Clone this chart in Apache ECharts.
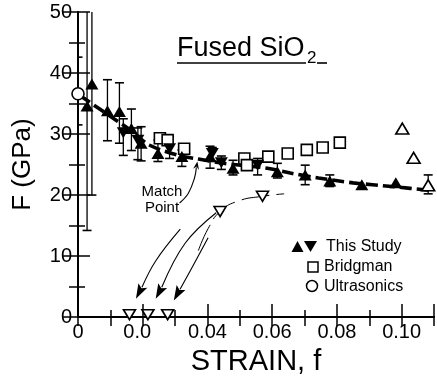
<!DOCTYPE html>
<html><head><meta charset="utf-8">
<script src="https://cdn.jsdelivr.net/npm/echarts@6/dist/echarts.min.js"></script>
<style>html,body{margin:0;padding:0;background:#fff}#c{width:437px;height:381px}</style>
</head><body><div id="c"></div>
<script>
// ---- tick labels ----
const xTickValues = [0, 0.02, 0.04, 0.06, 0.08, 0.10];
const xTickLabels = ['0', '0.02', '0.04', '0.06', '0.08', '0.10'];
const yTickValues = [0, 10, 20, 30, 40, 50];
const yTickLabels = ['0', '10', '20', '30', '40', '50'];

// ---- This Study: filled up triangles ----
const studyUpX  = [0.0028, 0.0043, 0.0091, 0.0128, 0.0165, 0.0195, 0.0247, 0.0321, 0.0408, 0.0479, 0.0616, 0.0702, 0.0778, 0.0877, 0.0982];
const studyUpY  = [34.6, 38.2, 33.8, 33.7, 30.9, 28.5, 26.8, 26.3, 26.3, 24.4, 23.8, 23.3, 22.3, 21.7, 22.0];
const studyUpLo = [14.2, 20.0, 28.9, 28.5, 27.3, 25.6, 25.5, 24.7, 24.4, 23.3, 22.8, 21.7, 21.4, null, null];
const studyUpHi = [56.0, 56.0, 38.9, 38.4, 34.1, 31.2, 29.0, 27.4, 28.0, 25.7, 25.2, 24.9, 23.3, null, null];

// ---- This Study: filled down triangles ----
const studyDnX  = [0.0140, 0.0185, 0.0283, 0.0415, 0.0443, 0.0555];
const studyDnY  = [30.2, 29.0, 27.6, 26.8, 25.3, 24.9];
const studyDnLo = [26.5, 25.8, 26.0, 25.5, 24.2, 23.3];
const studyDnHi = [32.5, 31.0, 29.6, 27.8, 26.4, 26.0];

// ---- Bridgman: open squares ----
const bridgmanX = [0.0253, 0.0277, 0.0328, 0.0514, 0.0522, 0.0588, 0.0648, 0.0707, 0.0756, 0.0809];
const bridgmanY = [29.3, 29.0, 27.6, 26.0, 24.9, 26.3, 26.8, 27.4, 27.8, 28.6];

// ---- Ultrasonics: open circle ----
const ultraX  = [0.0];
const ultraY  = [36.6];
const ultraLo = [31.5];
const ultraHi = [42.6];

// ---- other data: open up triangles ----
const openUpX  = [0.1002, 0.1037, 0.1082];
const openUpY  = [30.9, 26.1, 21.6];
const openUpLo = [null, null, 20.2];
const openUpHi = [null, null, 23.3];

// ---- open down triangles ----
const openDnX = [0.0159, 0.0216, 0.0277, 0.0439, 0.0570];
const openDnY = [0.4, 0.4, 0.4, 17.3, 19.8];

// ---- thin dashed curve through open down triangles ----
const curveX = [0.0372, 0.0402, 0.0439, 0.0494, 0.0570, 0.0637];
const curveY = [10.9, 14.5, 17.3, 19.0, 19.8, 20.2];

// ---- thick dashed fit line ----
const fitX = [0.0006, 0.0067, 0.0168, 0.0220, 0.0311, 0.0372, 0.0450, 0.0585, 0.0656, 0.0743, 0.0850, 0.0970, 0.1100];
const fitY = [36.3, 34.1, 30.4, 28.2, 26.5, 25.9, 25.2, 24.4, 23.6, 22.8, 22.0, 21.4, 20.7];

// ---- annotation arrows (data coordinates) ----
const arrowBig1 = [[0.0316, 14.4], [0.0240, 9.2], [0.0179, 3.0]];
const arrowBig2 = [[0.0427, 17.1], [0.0331, 12.1], [0.0240, 3.0]];
const arrowBig3 = [[0.0402, 13.0], [0.0352, 8.1], [0.0296, 2.7]];
const arrowMatch = [[0.0314, 18.7], [0.0341, 20.3], [0.0360, 22.8], [0.0369, 25.5]];

const FONT = '"Liberation Sans", Arial, Helvetica, sans-serif';

function zip(xs, ys) { return xs.map((x, i) => [x, ys[i]]); }
function errData(xs, lo, hi) {
  const out = [];
  xs.forEach((x, i) => { if (lo[i] != null) out.push([x, lo[i], hi[i]]); });
  return out;
}
function errRender(params, api) {
  const x = api.value(0), lo = api.value(1), hi = api.value(2);
  const a = api.coord([x, lo]), b = api.coord([x, hi]);
  const w = 4.5;
  const st = { stroke: '#000', lineWidth: 1.3 };
  return { type: 'group', children: [
    { type: 'line', shape: { x1: a[0], y1: a[1], x2: b[0], y2: b[1] }, style: st },
    { type: 'line', shape: { x1: a[0] - w, y1: a[1], x2: a[0] + w, y2: a[1] }, style: { stroke: '#000', lineWidth: 1.6 } },
    { type: 'line', shape: { x1: b[0] - w, y1: b[1], x2: b[0] + w, y2: b[1] }, style: { stroke: '#000', lineWidth: 1.6 } }
  ]};
}
const arrowList = [
  { path: arrowBig1, len: 15, half: 5 },
  { path: arrowBig2, len: 15, half: 5 },
  { path: arrowBig3, len: 15, half: 5 },
  { path: arrowMatch, len: 8, half: 3 }
];
function arrowRender(params, api) {
  const a = arrowList[params.dataIndex];
  const pts = a.path.map(p => api.coord(p));
  const tip = pts[pts.length - 1], prev = pts[pts.length - 2];
  const dx = tip[0] - prev[0], dy = tip[1] - prev[1];
  const L = Math.hypot(dx, dy), ux = dx / L, uy = dy / L;
  const bx = tip[0] - ux * a.len, by = tip[1] - uy * a.len;
  const linePts = pts.slice(0, -1).concat([[bx + ux * 2, by + uy * 2]]);
  return { type: 'group', children: [
    { type: 'polyline', shape: { points: linePts, smooth: 0.4 }, style: { stroke: '#000', lineWidth: 1.1, fill: null } },
    { type: 'polygon', shape: { points: [tip, [bx - uy * a.half, by + ux * a.half], [bx + ux * 3, by + uy * 3], [bx + uy * a.half, by - ux * a.half]] }, style: { fill: '#000' } }
  ]};
}
function xLabel(v) {
  const i = xTickValues.findIndex(t => Math.abs(t - v) < 1e-9);
  if (i < 0) return '';
  if (xTickLabels[i] === '0.02') return '0.0{h|2}';
  return xTickLabels[i];
}
function yLabel(v) {
  const i = yTickValues.findIndex(t => Math.abs(t - v) < 1e-9);
  return i < 0 ? '' : yTickLabels[i];
}

const chart = echarts.init(document.getElementById('c'), null, { renderer: 'canvas' });
const axisLine = { show: true, lineStyle: { color: '#000', width: 2 } };
const openStyle = { color: '#fff', borderColor: '#000', borderWidth: 1.6, opacity: 1 };
const solidStyle = { color: '#000', opacity: 1 };
chart.setOption({
  animation: false,
  backgroundColor: '#fff',
  grid: { left: 78, right: -2, top: 12, bottom: 61 },
  xAxis: [{
    type: 'value', min: 0, max: 0.11, interval: 0.02, position: 'bottom',
    axisLine: axisLine,
    axisTick: { show: true, inside: true, length: 13, lineStyle: { color: '#000', width: 1.5 } },
    minorTick: { show: true, splitNumber: 2, length: 7, lineStyle: { color: '#000', width: 1.5 } },
    splitLine: { show: false },
    axisLabel: { formatter: xLabel, color: '#000', fontSize: 20, fontFamily: FONT, margin: 5,
      rich: { h: { color: 'rgba(255,255,255,0)', fontSize: 20, fontFamily: FONT } } },
    name: 'STRAIN, f', nameLocation: 'middle', nameGap: 26,
    nameTextStyle: { color: '#000', fontSize: 29, fontFamily: FONT }
  }, {
    type: 'value', min: 0, max: 0.11, interval: 0.01, position: 'top',
    axisLine: axisLine,
    axisTick: { show: true, inside: true, length: 9, lineStyle: { color: '#000', width: 1.5 } },
    axisLabel: { show: false }, splitLine: { show: false }
  }],
  yAxis: [{
    type: 'value', min: 0, max: 50, interval: 10, position: 'left',
    axisLine: axisLine,
    axisTick: { show: true, inside: true, length: 12, lineStyle: { color: '#000', width: 1.5 } },
    minorTick: { show: true, splitNumber: 2, length: 7, lineStyle: { color: '#000', width: 1.5 } },
    splitLine: { show: false },
    axisLabel: { formatter: yLabel, color: '#000', fontSize: 20, fontFamily: FONT, margin: 6 },
    name: 'F (GPa)', nameLocation: 'middle', nameGap: 42, nameRotate: 90,
    nameTextStyle: { color: '#000', fontSize: 26, fontFamily: FONT }
  }, {
    type: 'value', min: 0, max: 50, interval: 10, position: 'right',
    axisLine: axisLine,
    axisTick: { show: true, inside: true, length: 15, lineStyle: { color: '#000', width: 1.5 } },
    minorTick: { show: true, splitNumber: 2, length: 9, lineStyle: { color: '#000', width: 1.5 } },
    splitLine: { show: false }, axisLabel: { show: false }
  }],
  series: [
    { type: 'line', data: zip(fitX, fitY), symbol: 'none', smooth: 0.3, z: 2,
      lineStyle: { color: '#000', width: 3.6, type: [12, 5] } },
    { type: 'line', data: zip(curveX, curveY), symbol: 'none', smooth: 0.5, z: 2,
      lineStyle: { color: '#000', width: 1, type: [28, 7] } },
    { type: 'custom', renderItem: arrowRender, data: [[0], [1], [2], [3]], z: 2, silent: true },
    { type: 'custom', renderItem: errRender, clip: true, z: 3,
      data: errData(studyUpX, studyUpLo, studyUpHi).concat(errData(studyDnX, studyDnLo, studyDnHi), errData(ultraX, ultraLo, ultraHi), errData(openUpX, openUpLo, openUpHi)),
      encode: { x: 0, y: [1, 2] } },
    { type: 'scatter', name: 'Bridgman', data: zip(bridgmanX, bridgmanY), symbol: 'rect', symbolSize: 11, z: 4,
      itemStyle: openStyle },
    { type: 'scatter', name: 'This Study', data: zip(studyUpX, studyUpY), symbol: 'triangle', symbolSize: [13, 11], z: 5,
      itemStyle: solidStyle },
    { type: 'scatter', name: 'This Study down', data: zip(studyDnX, studyDnY), symbol: 'triangle', symbolRotate: 180, symbolSize: [13, 11], z: 5,
      itemStyle: solidStyle },
    { type: 'scatter', name: 'Ultrasonics', data: zip(ultraX, ultraY), symbol: 'circle', symbolSize: 12, z: 5, clip: false,
      itemStyle: openStyle },
    { type: 'scatter', data: zip(openUpX, openUpY), symbol: 'triangle', symbolSize: [13, 11], z: 5,
      itemStyle: openStyle },
    { type: 'scatter', data: zip(openDnX, openDnY), symbol: 'triangle', symbolRotate: 180, symbolSize: [12, 10], z: 5, clip: false,
      itemStyle: openStyle }
  ],
  graphic: [
    { type: 'text', left: 177, top: 35, style: { text: 'Fused SiO', fill: '#000', font: '27px ' + FONT } },
    { type: 'text', left: 307, top: 50, style: { text: '2', fill: '#000', font: '17px ' + FONT } },
    { type: 'line', shape: { x1: 177, y1: 63, x2: 306, y2: 63 }, style: { stroke: '#000', lineWidth: 1.6 } },
    { type: 'line', shape: { x1: 317, y1: 63, x2: 327, y2: 63 }, style: { stroke: '#000', lineWidth: 1.6 } },
    { type: 'text', x: 162, y: 192, style: { text: 'Match', fill: '#000', font: '15px ' + FONT, align: 'center', verticalAlign: 'middle' } },
    { type: 'text', x: 162, y: 208, style: { text: 'Point', fill: '#000', font: '15px ' + FONT, align: 'center', verticalAlign: 'middle' } },
    { type: 'polygon', shape: { points: [[297.5, 241], [291.5, 252], [303.5, 252]] }, style: { fill: '#000' } },
    { type: 'polygon', shape: { points: [[304, 241], [317, 241], [310.5, 252]] }, style: { fill: '#000' } },
    { type: 'text', x: 326, y: 246.5, style: { text: 'This Study', fill: '#000', font: '16px ' + FONT, verticalAlign: 'middle' } },
    { type: 'rect', shape: { x: 308, y: 262, width: 10, height: 10 }, style: { fill: '#fff', stroke: '#000', lineWidth: 1.5 } },
    { type: 'text', x: 324, y: 267, style: { text: 'Bridgman', fill: '#000', font: '16px ' + FONT, verticalAlign: 'middle' } },
    { type: 'circle', shape: { cx: 312, cy: 286, r: 5.5 }, style: { fill: '#fff', stroke: '#000', lineWidth: 1.5 } },
    { type: 'text', x: 324, y: 286.5, style: { text: 'Ultrasonics', fill: '#000', font: '16px ' + FONT, verticalAlign: 'middle' } }
  ]
});
</script></body></html>
